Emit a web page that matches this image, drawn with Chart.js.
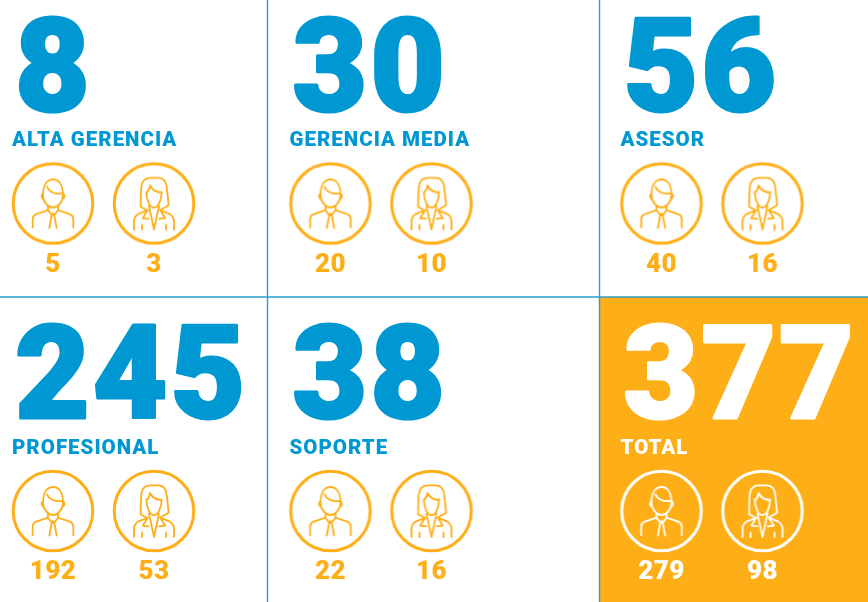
<!DOCTYPE html>
<html>
<head>
<meta charset="utf-8">
<title>Personal por nivel</title>
<script src="https://cdn.jsdelivr.net/npm/chart.js@4"></script>
<style>
  html, body { margin: 0; padding: 0; background: #fff; }
  canvas { display: block; }
</style>
</head>
<body>
<canvas id="staffChart" width="868" height="602"></canvas>
<script>
// Values
const categories = ["ALTA GERENCIA", "GERENCIA MEDIA", "ASESOR", "PROFESIONAL", "SOPORTE", "TOTAL"];
const totals = [8, 30, 56, 245, 38, 377];
const men = [5, 20, 40, 192, 22, 279];
const women = [3, 10, 16, 53, 16, 98];

const BLUE = "#0098d2";
const ORANGE = "#feae17";
const RULE = "#2a9fc9";

// Layout in page pixels, the axes run 1:1 with the canvas
const cellLeft = [12, 289.5, 620.5, 12, 289.5, 620.5];
const rowOf = [0, 0, 0, 1, 1, 1];
const bigBaseline = [110.5, 417.5];
const labelBaseline = [146, 454];
const circleY = [203.5, 511];
const valueBaseline = [271.5, 579];
const manOffset = 41;
const womanOffset = 142;

// Icons are traced at 3x around the circle centre
const manPath = "M-30 -25 C-30 -60 -15 -72 0 -72 C15 -72 30 -60 30 -25 C30 -5 14 12 0 12 C-14 12 -30 -5 -30 -25 Z" +
  "M-18 -50 C-10 -32 10 -28 30 -30 M-30 -28 C-36 -28 -36 -15 -28 -14 M30 -28 C36 -28 36 -15 28 -14" +
  "M-15 5 L-15 20 L-3 36 L0 30 L3 36 L15 20 L15 5 M-15 20 L-50 32 C-58 35 -61 40 -61 48 L-61 72" +
  "M15 20 L50 32 C58 35 61 40 61 48 L61 72 M-4 36 L-11 74 M4 36 L11 74 M-4 36 L0 30 L4 36";
const womanPath = "M-40 10 C-40 -20 -40 -35 -38 -50 C-36 -70 -25 -77 -10 -77 L12 -77 C28 -77 36 -68 38 -50 L44 5 L22 18" +
  "M-40 10 L-20 21 M-23 -35 C-23 -10 -12 12 0 12 C12 12 23 -10 23 -35 L23 -33 C8 -33 -5 -40 -12 -54 M-23 -33 C-18 -35 -14 -42 -12 -54" +
  "M-15 8 L0 78 L15 8 M-18 20 L-48 32 C-55 36 -60 45 -60 55 L-60 78 M18 20 L48 32 C55 36 60 45 60 55 L60 78" +
  "M-20 22 L-34 44 L-16 46 M20 22 L34 44 L16 46 M-36 64 L-36 78 M36 64 L36 78";

function makeIcon(path, color) {
  const size = 90;
  const c = document.createElement("canvas");
  c.width = size;
  c.height = size;
  const g = c.getContext("2d");
  g.translate(size / 2, size / 2);
  g.strokeStyle = color;
  g.lineWidth = 3;
  g.beginPath();
  g.arc(0, 0, 39.8, 0, Math.PI * 2);
  g.stroke();
  g.scale(1 / 3, 1 / 3);
  g.lineWidth = 5.4;
  g.lineJoin = "round";
  g.lineCap = "round";
  g.stroke(new Path2D(path));
  return c;
}

const manIcons = categories.map(c => makeIcon(manPath, c === "TOTAL" ? "#fff" : ORANGE));
const womanIcons = categories.map(c => makeIcon(womanPath, c === "TOTAL" ? "#fff" : ORANGE));

const panelPlugin = {
  id: "panels",
  beforeDatasetsDraw(chart) {
    const { ctx, scales: { x, y } } = chart;
    ctx.save();
    ctx.fillStyle = ORANGE;
    ctx.fillRect(x.getPixelForValue(600), y.getPixelForValue(297), 268, 305);
    ctx.strokeStyle = RULE;
    ctx.lineWidth = 1.4;
    ctx.beginPath();
    [267.5, 599.5].forEach(v => {
      ctx.moveTo(x.getPixelForValue(v), 0);
      ctx.lineTo(x.getPixelForValue(v), 602);
    });
    ctx.moveTo(0, y.getPixelForValue(297));
    ctx.lineTo(868, y.getPixelForValue(297));
    ctx.stroke();
    ctx.restore();
  },
  afterDatasetsDraw(chart) {
    const { ctx, scales: { x, y } } = chart;
    ctx.save();
    ctx.textBaseline = "alphabetic";
    ctx.lineJoin = "round";
    categories.forEach((name, i) => {
      const row = rowOf[i];
      const left = cellLeft[i];
      const isTotal = name === "TOTAL";
      const color = isTotal ? "#fff" : BLUE;

      ctx.fillStyle = color;
      ctx.strokeStyle = color;
      ctx.textAlign = "left";
      // Roboto Black is a bit lighter than the original digits, so thicken it
      ctx.font = "900 129px Roboto";
      ctx.letterSpacing = "3px";
      ctx.lineWidth = 3;
      const bx = x.getPixelForValue(left + 3);
      const by = y.getPixelForValue(bigBaseline[row]);
      ctx.fillText(String(totals[i]), bx, by);
      ctx.strokeText(String(totals[i]), bx, by);

      ctx.font = "900 20.5px Roboto";
      ctx.letterSpacing = "1px";
      ctx.fillText(name, x.getPixelForValue(left), y.getPixelForValue(labelBaseline[row]));

      ctx.fillStyle = isTotal ? "#fff" : ORANGE;
      ctx.textAlign = "center";
      ctx.font = "900 26px Roboto";
      ctx.letterSpacing = "0.5px";
      ctx.fillText(String(men[i]), x.getPixelForValue(left + manOffset), y.getPixelForValue(valueBaseline[row]));
      ctx.fillText(String(women[i]), x.getPixelForValue(left + womanOffset), y.getPixelForValue(valueBaseline[row]));
      ctx.letterSpacing = "0px";
    });
    ctx.restore();
  }
};

new Chart(document.getElementById("staffChart").getContext("2d"), {
  type: "scatter",
  data: {
    datasets: [
      {
        label: "Hombres",
        data: men.map((v, i) => ({ x: cellLeft[i] + manOffset, y: circleY[rowOf[i]], v })),
        pointStyle: manIcons
      },
      {
        label: "Mujeres",
        data: women.map((v, i) => ({ x: cellLeft[i] + womanOffset, y: circleY[rowOf[i]], v })),
        pointStyle: womanIcons
      }
    ]
  },
  options: {
    responsive: false,
    animation: false,
    layout: { padding: 0, autoPadding: false },
    plugins: { legend: { display: false }, tooltip: { enabled: false } },
    scales: {
      x: { type: "linear", display: false, min: 0, max: 868 },
      y: { type: "linear", display: false, min: 0, max: 602, reverse: true }
    }
  },
  plugins: [panelPlugin]
});
</script>
</body>
</html>
